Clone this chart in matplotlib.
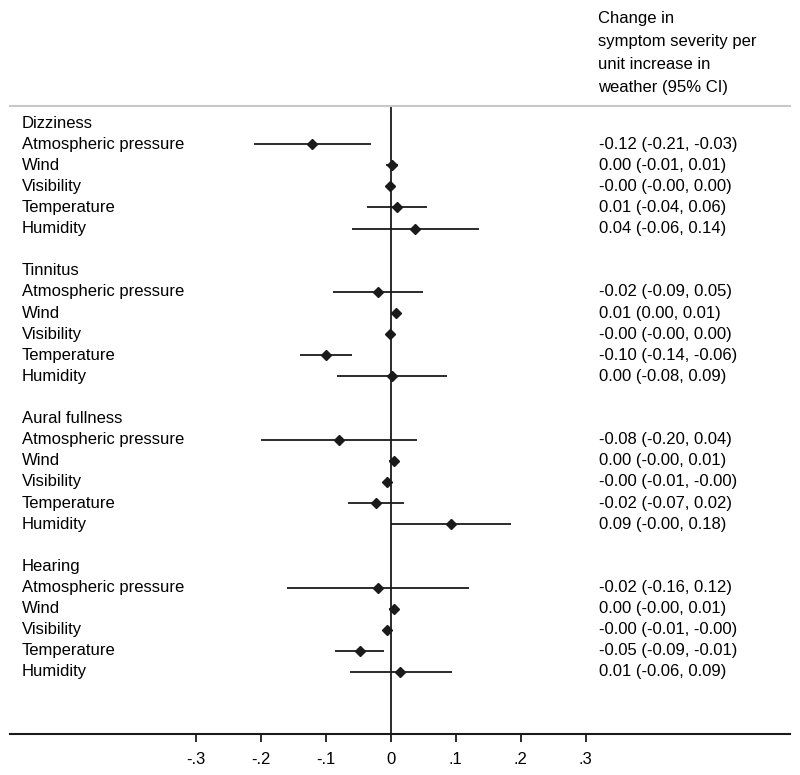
import matplotlib
matplotlib.use("Agg")
import matplotlib.pyplot as plt
from matplotlib.transforms import blended_transform_factory

plt.rcParams['font.family'] = ['Liberation Sans', 'DejaVu Sans']

# Data ------------------------------------------------------------------------
groups = ["Dizziness", "Tinnitus", "Aural fullness", "Hearing"]
factors = ["Atmospheric pressure", "Wind", "Visibility", "Temperature", "Humidity"]

est = [[-0.121, 0.002, -0.001, 0.010, 0.038],
       [-0.020, 0.008, -0.001, -0.100, 0.002],
       [-0.079, 0.005, -0.005, -0.023, 0.093],
       [-0.020, 0.005, -0.005, -0.047, 0.015]]
lo = [[-0.210, -0.007, -0.002, -0.037, -0.059],
      [-0.089, 0.002, -0.002, -0.140, -0.083],
      [-0.200, -0.002, -0.007, -0.066, 0.000],
      [-0.159, -0.002, -0.007, -0.085, -0.063]]
hi = [[-0.030, 0.011, 0.001, 0.056, 0.136],
      [0.050, 0.012, 0.001, -0.060, 0.087],
      [0.040, 0.011, -0.003, 0.020, 0.185],
      [0.120, 0.011, -0.003, -0.010, 0.094]]
ci_text = [["-0.12 (-0.21, -0.03)", "0.00 (-0.01, 0.01)", "-0.00 (-0.00, 0.00)",
            "0.01 (-0.04, 0.06)", "0.04 (-0.06, 0.14)"],
           ["-0.02 (-0.09, 0.05)", "0.01 (0.00, 0.01)", "-0.00 (-0.00, 0.00)",
            "-0.10 (-0.14, -0.06)", "0.00 (-0.08, 0.09)"],
           ["-0.08 (-0.20, 0.04)", "0.00 (-0.00, 0.01)", "-0.00 (-0.01, -0.00)",
            "-0.02 (-0.07, 0.02)", "0.09 (-0.00, 0.18)"],
           ["-0.02 (-0.16, 0.12)", "0.00 (-0.00, 0.01)", "-0.00 (-0.01, -0.00)",
            "-0.05 (-0.09, -0.01)", "0.01 (-0.06, 0.09)"]]
xticks = [-0.3, -0.2, -0.1, 0, 0.1, 0.2, 0.3]
xticklabels = ["-.3", "-.2", "-.1", "0", ".1", ".2", ".3"]
header = "Change in\nsymptom severity per\nunit increase in\nweather (95% CI)"

# Plot ------------------------------------------------------------------------
W, H = 800, 775
fig = plt.figure(figsize=(W / 100, H / 100), dpi=100)
ax = fig.add_axes([10 / W, 1 - 734 / H, 780 / W, 628 / H])

fs = 12
row = 0
for g, name in enumerate(groups):
    ax.text(22 / W, row, name, fontsize=fs, va='center', ha='left',
            transform=blended_transform_factory(fig.transFigure, ax.transData))
    row += 1
    for k, f in enumerate(factors):
        tr = blended_transform_factory(fig.transFigure, ax.transData)
        ax.text(22 / W, row, f, fontsize=fs, va='center', ha='left', transform=tr)
        ax.plot([lo[g][k], hi[g][k]], [row, row], color='#1a1a1a', lw=1.3,
                solid_capstyle='butt')
        ax.plot(est[g][k], row, marker='D', color='#1a1a1a', ms=5.5)
        ax.text(599 / W, row, ci_text[g][k], fontsize=fs, va='center',
                ha='left', transform=tr)
        row += 1
    row += 1

ax.axvline(0, color='#1a1a1a', lw=1.3)

x0 = (10 - 390.7) / 650
x1 = (790 - 390.7) / 650
ax.set_xlim(x0, x1)
ax.set_ylim((734 - 123) / 21.115, (106 - 123) / 21.115)

for s in ['left', 'right']:
    ax.spines[s].set_visible(False)
ax.spines['top'].set_color('#c8c8c8')
ax.spines['top'].set_linewidth(1.5)
ax.spines['bottom'].set_color('#1a1a1a')
ax.spines['bottom'].set_linewidth(1.5)
ax.set_yticks([])
ax.set_xticks(xticks)
ax.set_xticklabels(xticklabels, fontsize=fs)
ax.tick_params(axis='x', length=6, width=1.3, color='#1a1a1a', pad=7)

fig.text(598 / W, 1 - 11 / H, header, fontsize=fs, va='top', ha='left',
         linespacing=1.66)

fig.savefig("out.png", dpi=100, facecolor='white')
